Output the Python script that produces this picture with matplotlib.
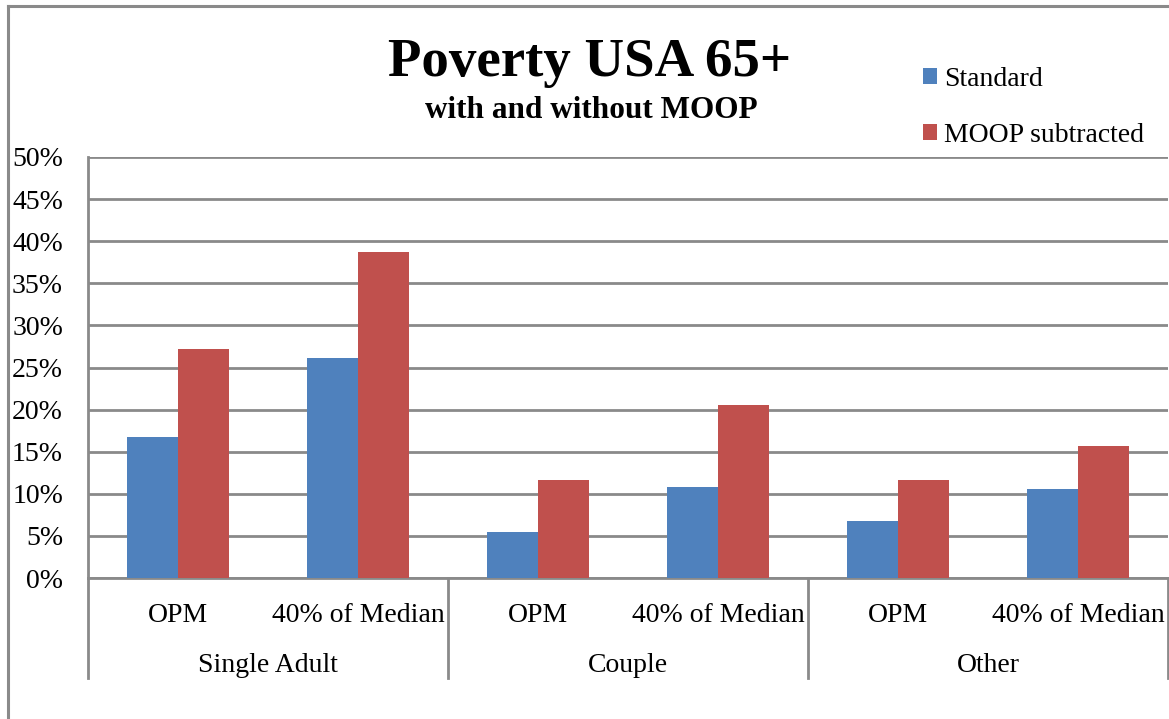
import matplotlib
matplotlib.use("Agg")
import matplotlib.pyplot as plt
import numpy as np
from matplotlib.lines import Line2D
from matplotlib.patches import Patch
import matplotlib.transforms as mtransforms

# Data
groups = ["Single Adult", "Couple", "Other"]
measures = ["OPM", "40% of Median"]
standard = [16.7, 26.1, 5.5, 10.8, 6.8, 10.6]
moop_subtracted = [27.2, 38.7, 11.6, 20.5, 11.6, 15.7]
series_names = ["Standard", "MOOP subtracted"]
yticks = list(range(0, 51, 5))

BLUE = "#4F81BD"
RED = "#C0504D"
GRID = "#8A8A8A"

plt.rcParams["font.family"] = ["Liberation Serif", "DejaVu Serif"]

W, H = 1169, 719
fig = plt.figure(figsize=(W / 100, H / 100), dpi=100)

# plot area in pixel coords
x0, x1, yb, yt = 88, 1168, 578, 157
ax = fig.add_axes([x0 / W, 1 - yb / H, (x1 - x0) / W, (yb - yt) / H])

n = len(standard)
x = np.arange(n)
bw = 1 / 3.5  # gap width 150%
ax.bar(x - bw / 2, standard, bw, color=BLUE, label=series_names[0], zorder=3)
ax.bar(x + bw / 2, moop_subtracted, bw, color=RED, label=series_names[1], zorder=3)

ax.set_xlim(-0.5, n - 0.5)
ax.set_ylim(0, 50)
ax.set_yticks(yticks)
ax.set_yticklabels([f"{v}%" for v in yticks])
ax.tick_params(axis="y", length=0, pad=18, labelsize=20)
ax.set_xticks([])
ax.yaxis.grid(True, color=GRID, linewidth=2, zorder=0)
ax.set_axisbelow(True)
for s in ["top", "right"]:
    ax.spines[s].set_visible(False)
for s in ["left", "bottom"]:
    ax.spines[s].set_color(GRID)
    ax.spines[s].set_linewidth(2)

# two-level category axis
trans = mtransforms.blended_transform_factory(ax.transData, ax.transAxes)
px = 1 / (yb - yt)
y_sub = -(616 - yb) * px
y_grp = -(666 - yb) * px
y_end = -(678 - yb) * px
for i in range(n):
    ax.text(x[i], y_sub, measures[i % 2], transform=trans, ha="center",
            va="center", fontsize=20)
for g, name in enumerate(groups):
    ax.text(2 * g + 0.5, y_grp, name, transform=trans, ha="center",
            va="center", fontsize=20)
for b in [-0.5, 1.5, 3.5, 5.5]:
    ax.add_line(Line2D([b, b], [0, y_end], transform=trans, color=GRID,
                       linewidth=2, clip_on=False))

# outer chart frame
fig.add_artist(Line2D([7.5 / W, 7.5 / W], [0, 1 - 5.5 / H], color=GRID,
                      linewidth=2.2, transform=fig.transFigure))
fig.add_artist(Line2D([7.5 / W, 1], [1 - 5.5 / H, 1 - 5.5 / H], color=GRID,
                      linewidth=2.2, transform=fig.transFigure))

# titles
fig.text(590 / W, 1 - 63 / H, "Poverty USA 65+", ha="center", va="center",
         fontsize=39.5, fontweight="bold")
fig.text(591 / W, 1 - 110 / H, "with and without MOOP", ha="center",
         va="center", fontsize=22.5, fontweight="bold")

# legend
handles = [Patch(facecolor=BLUE), Patch(facecolor=RED)]
fig.legend(handles, series_names, loc="upper left",
           bbox_to_anchor=(923 / W, 1 - 67 / H), frameon=False, fontsize=20,
           handlelength=0.5, handleheight=0.5, handletextpad=0.25,
           labelspacing=1.12, borderaxespad=0, borderpad=0)

fig.savefig("out.png", dpi=100, facecolor="white")
